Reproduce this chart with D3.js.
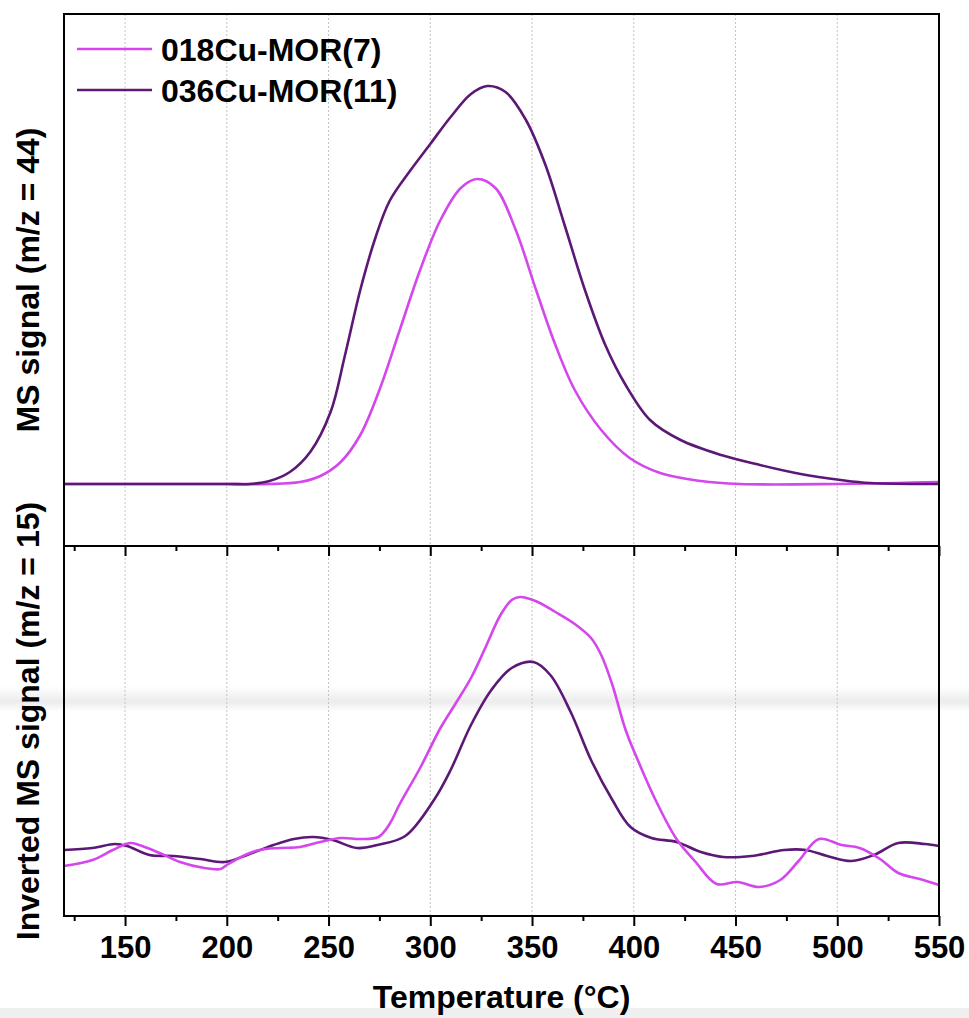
<!DOCTYPE html>
<html>
<head>
<meta charset="utf-8">
<script src="https://cdn.jsdelivr.net/npm/d3@7"></script>
<style>
  body { margin: 0; background: #fff; }
  text { font-family: "Liberation Sans", Arial, sans-serif; font-weight: bold; fill: #000; }
</style>
</head>
<body>
<script>
// TPD-like traces (arbitrary units)
var seriesNames = ['018Cu-MOR(7)', '036Cu-MOR(11)'];
var seriesColors = ['#d447ec', '#5c1875'];

// top panel, m/z = 44
var top018T = [120, 200, 221, 236, 246, 256, 265.6, 275, 285, 295, 305, 315, 323, 332, 342, 352, 361.5, 371, 384, 398, 413, 433, 452, 500, 530, 550];
var top018V = [0, 0, 0, 2, 8, 22, 49, 94, 154, 214, 264, 296, 305, 296, 254, 194, 139, 94, 54, 26, 11, 3, 0, 0, 1, 2];
var top036T = [120, 200, 211.5, 221, 231, 241, 251, 258, 265.6, 273, 280, 290, 300, 310, 320, 328, 337, 347, 356.6, 366, 376, 386, 396, 408, 423, 443, 462, 482, 501.7, 516, 550];
var top036V = [0, 0, 0, 3, 12, 32, 72, 128, 194, 246, 283, 313, 340, 367, 390, 398, 392, 364, 319, 259, 194, 139, 99, 64, 44, 29, 19, 10, 4, 1, 0];

// bottom panel, inverted m/z = 15
var bot018T = [120, 134, 144, 152.5, 157, 167, 177, 189, 197, 200, 209, 216, 226, 236, 246, 256, 265.6, 274.5, 280, 285, 295, 305, 312, 320, 327, 334.5, 340, 344, 351.7, 361.5, 371, 379, 384, 389.5, 396, 403, 410.7, 421, 430, 440.7, 451, 461.6, 472, 481, 491, 502, 511, 521, 530, 540.5, 550];
var bot018V = [-16, -10, 0, 7, 5, -3, -12, -18, -19, -15, -5, 0, 2, 3, 8, 12, 11, 13, 26, 46, 82, 122, 145, 172, 202, 235, 250, 253, 249, 238, 226, 212, 195, 165, 120, 85, 50, 11, -11, -34, -32, -37, -30, -11, 11, 5, 2, -9, -23, -29, -35];
var bot036T = [120, 134, 145, 151, 162, 173.6, 187, 199, 210, 223, 233, 242.5, 252, 264, 274, 287.7, 301.8, 310, 320, 330, 340, 350.7, 359, 369, 379, 389.5, 398.4, 408.7, 421, 433, 444, 458, 474, 484.5, 495, 507, 518, 530, 543, 550];
var bot036V = [0, 2, 6, 4, -5, -6, -9, -12, -5, 5, 11, 13, 10, 2, 5, 14, 50, 80, 125, 160, 182, 188, 175, 138, 90, 50, 23, 12, 8, -2, -7, -6, 0, 0, -6, -11, -5, 7, 6, 4];

var majorTicks = [150, 200, 250, 300, 350, 400, 450, 500, 550];
var minorTicks = [125, 175, 225, 275, 325, 375, 425, 475, 525];

var width = 969, height = 1018;
var plotLeft = 64, plotRight = 939, plotTop = 14, plotMid = 546, plotBottom = 916;

var svg = d3.select('body').append('svg')
  .attr('width', width)
  .attr('height', height);

// scan artefacts: faint band and grey strip at the bottom
var defs = svg.append('defs');
var grad = defs.append('linearGradient').attr('id', 'band')
  .attr('x1', 0).attr('y1', 0).attr('x2', 0).attr('y2', 1);
grad.append('stop').attr('offset', '0%').attr('stop-color', '#fff');
grad.append('stop').attr('offset', '60%').attr('stop-color', '#ececec');
grad.append('stop').attr('offset', '100%').attr('stop-color', '#fff');
svg.append('rect').attr('x', 0).attr('y', 686).attr('width', width).attr('height', 26).attr('fill', 'url(#band)');
svg.append('rect').attr('x', 0).attr('y', 1008).attr('width', width).attr('height', 10).attr('fill', '#efefef');

var x = d3.scaleLinear().domain([120, 550]).range([plotLeft, plotRight]);
var yTop = d3.scaleLinear().domain([-62, 470]).range([plotMid, plotTop]);
var yBot = d3.scaleLinear().domain([-66, 304]).range([plotBottom, plotMid]);

// grid
[[plotTop, plotMid], [plotMid, plotBottom]].forEach(function(p) {
  svg.append('g').selectAll('line').data(majorTicks.slice(0, -1)).enter().append('line')
    .attr('x1', function(d){ return x(d); })
    .attr('x2', function(d){ return x(d); })
    .attr('y1', p[0]).attr('y2', p[1])
    .attr('stroke', '#c4c4c4')
    .attr('stroke-width', 1)
    .attr('stroke-dasharray', '2,2');
});

var makeLine = function(yScale) {
  return d3.line()
    .x(function(d){ return x(d[0]); })
    .y(function(d){ return yScale(d[1]); })
    .curve(d3.curveCatmullRom.alpha(0.5));
};

var zip = function(a, b) { return a.map(function(t, i){ return [t, b[i]]; }); };

var plots = [
  {data: zip(top018T, top018V), y: yTop, c: 0},
  {data: zip(top036T, top036V), y: yTop, c: 1},
  {data: zip(bot036T, bot036V), y: yBot, c: 1},
  {data: zip(bot018T, bot018V), y: yBot, c: 0}
];

plots.forEach(function(p) {
  svg.append('path')
    .datum(p.data)
    .attr('fill', 'none')
    .attr('stroke', seriesColors[p.c])
    .attr('stroke-width', 2.6)
    .attr('stroke-linejoin', 'round')
    .attr('d', makeLine(p.y));
});

// axes
[plotMid, plotBottom].forEach(function(yy, k) {
  var major = svg.append('g').attr('transform', 'translate(0,' + yy + ')')
    .call(d3.axisBottom(x).tickValues(majorTicks).tickSize(10).tickPadding(10)
      .tickFormat(k === 1 ? d3.format('d') : ''));
  major.select('.domain').remove();
  major.selectAll('line').attr('stroke', '#000').attr('stroke-width', 2);
  major.selectAll('text').attr('font-size', 31).attr('font-family', null).attr('dy', '0.71em');

  var minor = svg.append('g').attr('transform', 'translate(0,' + yy + ')')
    .call(d3.axisBottom(x).tickValues(minorTicks).tickSize(5).tickFormat(''));
  minor.select('.domain').remove();
  minor.selectAll('line').attr('stroke', '#000').attr('stroke-width', 2);
});

// frame
svg.append('rect')
  .attr('x', plotLeft).attr('y', plotTop)
  .attr('width', plotRight - plotLeft).attr('height', plotBottom - plotTop)
  .attr('fill', 'none').attr('stroke', '#000').attr('stroke-width', 2);
svg.append('line')
  .attr('x1', plotLeft).attr('x2', plotRight).attr('y1', plotMid).attr('y2', plotMid)
  .attr('stroke', '#000').attr('stroke-width', 2);

// labels
svg.append('text')
  .attr('x', (plotLeft + plotRight) / 2).attr('y', 1008)
  .attr('text-anchor', 'middle').attr('font-size', 32)
  .text('Temperature (°C)');

svg.append('text')
  .attr('transform', 'translate(39,280) rotate(-90)')
  .attr('text-anchor', 'middle').attr('font-size', 32)
  .text('MS signal (m/z = 44)');

svg.append('text')
  .attr('transform', 'translate(39,721) rotate(-90)')
  .attr('text-anchor', 'middle').attr('font-size', 32)
  .text('Inverted MS signal (m/z = 15)');

// legend
var legend = svg.append('g').selectAll('g').data(seriesNames).enter().append('g')
  .attr('transform', function(d, i){ return 'translate(77,' + (49 + i * 41) + ')'; });
legend.append('line')
  .attr('x1', 0).attr('x2', 75).attr('y1', 0).attr('y2', 0)
  .attr('stroke', function(d, i){ return seriesColors[i]; })
  .attr('stroke-width', 2.6);
legend.append('text')
  .attr('x', 84).attr('y', 0).attr('dy', '0.36em')
  .attr('font-size', 32)
  .text(function(d){ return d; });
</script>
</body>
</html>
